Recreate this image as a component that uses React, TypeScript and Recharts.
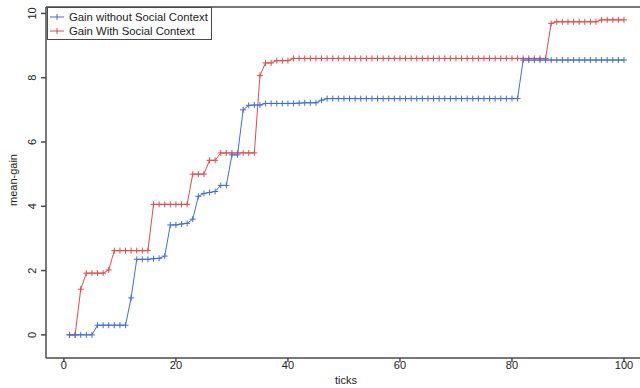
import { LineChart, Line, XAxis, YAxis, ReferenceLine, Label } from 'recharts'

const ticks = [
  1, 2, 3, 4, 5, 6, 7, 8, 9, 10, 11, 12, 13, 14, 15, 16, 17, 18, 19, 20,
  21, 22, 23, 24, 25, 26, 27, 28, 29, 30, 31, 32, 33, 34, 35, 36, 37, 38, 39, 40,
  41, 42, 43, 44, 45, 46, 47, 48, 49, 50, 51, 52, 53, 54, 55, 56, 57, 58, 59, 60,
  61, 62, 63, 64, 65, 66, 67, 68, 69, 70, 71, 72, 73, 74, 75, 76, 77, 78, 79, 80,
  81, 82, 83, 84, 85, 86, 87, 88, 89, 90, 91, 92, 93, 94, 95, 96, 97, 98, 99, 100,
]

// Gain without Social Context
const gainWithout = [
  0, 0, 0, 0, 0, 0.3, 0.3, 0.3, 0.3, 0.3, 0.3, 1.15, 2.35, 2.35, 2.35, 2.37, 2.38, 2.45, 3.42, 3.42,
  3.45, 3.47, 3.6, 4.31, 4.4, 4.43, 4.46, 4.65, 4.65, 5.6, 5.6, 7.0, 7.14, 7.15, 7.15, 7.2, 7.2, 7.2, 7.2, 7.2,
  7.2, 7.21, 7.22, 7.22, 7.22, 7.3, 7.35, 7.35, 7.35, 7.35, 7.35, 7.35, 7.35, 7.35, 7.35, 7.35, 7.35, 7.35, 7.35, 7.35,
  7.35, 7.35, 7.35, 7.35, 7.35, 7.35, 7.35, 7.35, 7.35, 7.35, 7.35, 7.35, 7.35, 7.35, 7.35, 7.35, 7.35, 7.35, 7.35, 7.35,
  7.35, 8.55, 8.55, 8.55, 8.55, 8.55, 8.55, 8.55, 8.55, 8.55, 8.55, 8.55, 8.55, 8.55, 8.55, 8.55, 8.55, 8.55, 8.55, 8.55,
]

// Gain With Social Context
const gainWith = [
  0, 0, 1.42, 1.92, 1.92, 1.92, 1.92, 2.02, 2.62, 2.62, 2.62, 2.62, 2.62, 2.62, 2.62, 4.06, 4.06, 4.06, 4.06, 4.06,
  4.06, 4.06, 5.0, 5.0, 5.0, 5.43, 5.43, 5.66, 5.66, 5.66, 5.66, 5.66, 5.66, 5.66, 8.07, 8.46, 8.46, 8.53, 8.53, 8.53,
  8.6, 8.6, 8.6, 8.6, 8.6, 8.6, 8.6, 8.6, 8.6, 8.6, 8.6, 8.6, 8.6, 8.6, 8.6, 8.6, 8.6, 8.6, 8.6, 8.6,
  8.6, 8.6, 8.6, 8.6, 8.6, 8.6, 8.6, 8.6, 8.6, 8.6, 8.6, 8.6, 8.6, 8.6, 8.6, 8.6, 8.6, 8.6, 8.6, 8.6,
  8.6, 8.6, 8.6, 8.6, 8.6, 8.6, 9.69, 9.74, 9.74, 9.74, 9.74, 9.74, 9.74, 9.74, 9.74, 9.8, 9.8, 9.8, 9.8, 9.8,
]

const xTicks = [0, 20, 40, 60, 80, 100]
const yTicks = [0, 2, 4, 6, 8, 10]

const data = ticks.map((t, i) => ({ tick: t, without: gainWithout[i], withSocial: gainWith[i] }))

const BLUE = '#3f6fd8'
const RED = '#e24b4b'
const AXIS = '#4a4a4a'
const FONT = '"Liberation Sans", Arial, sans-serif'
const Y_MAX = 10.2

const plusDot = (color: string) => (props: any) => {
  const { cx, cy, index } = props
  if (cx == null || cy == null) return <g key={`e${index}`} />
  return (
    <path
      key={`p${index}`}
      d={`M${cx - 3},${cy}h6M${cx},${cy - 3}v6`}
      stroke={color}
      strokeWidth={1}
      fill="none"
    />
  )
}

const YTick = (props: any) => {
  const { y, payload } = props
  return (
    <text
      x={36}
      y={y}
      transform={`rotate(-90, 36, ${y})`}
      textAnchor="middle"
      fontSize={11}
      fontFamily={FONT}
      fill="#222"
    >
      {payload.value}
    </text>
  )
}

const XTick = (props: any) => {
  const { x, payload } = props
  return (
    <text x={x} y={369} textAnchor="middle" fontSize={11} fontFamily={FONT} fill="#222">
      {payload.value}
    </text>
  )
}

function LegendBox() {
  const row = (color: string, text: string) => (
    <div style={{ display: 'flex', alignItems: 'center', height: 14 }}>
      <svg width={20} height={14} style={{ flex: 'none' }}>
        <path d="M2,7h14M9,4v6" stroke={color} strokeWidth={1} fill="none" />
      </svg>
      <span style={{ marginLeft: 1 }}>{text}</span>
    </div>
  )
  return (
    <div
      style={{
        position: 'absolute',
        left: 47,
        top: 7,
        width: 165,
        height: 33,
        border: `1px solid ${AXIS}`,
        background: '#fff',
        boxSizing: 'border-box',
        paddingTop: 2,
        fontFamily: FONT,
        fontSize: 11.3,
        color: '#222',
        lineHeight: '14px',
      }}
    >
      {row(BLUE, 'Gain without Social Context')}
      {row(RED, 'Gain With Social Context')}
    </div>
  )
}

export default function App() {
  return (
    <div style={{ position: 'absolute', left: 0, top: 0, width: 640, height: 388, background: '#fff', overflow: 'hidden' }}>
      <LineChart width={640} height={388} data={data} margin={{ top: 7, right: 0, bottom: 0, left: 0 }}>
        <XAxis
          dataKey="tick"
          type="number"
          domain={[-3.2, 102.86]}
          ticks={xTicks}
          allowDataOverflow
          height={30}
          tickSize={4}
          stroke={AXIS}
          strokeWidth={1.5}
          tick={<XTick />}
        >
          <Label
            content={() => (
              <text x={346} y={384} textAnchor="middle" fontSize={11} fontFamily={FONT} fill="#222">
                ticks
              </text>
            )}
          />
        </XAxis>
        <YAxis
          type="number"
          domain={[-0.72, Y_MAX]}
          ticks={yTicks}
          allowDataOverflow
          width={46}
          tickSize={5}
          stroke={AXIS}
          strokeWidth={1.5}
          tick={<YTick />}
        >
          <Label
            content={() => (
              <text
                x={17}
                y={180}
                transform="rotate(-90, 17, 180)"
                textAnchor="middle"
                fontSize={11}
                fontFamily={FONT}
                fill="#222"
              >
                mean-gain
              </text>
            )}
          />
        </YAxis>
        <ReferenceLine y={Y_MAX} stroke={AXIS} strokeWidth={1.5} />
        <Line
          type="linear"
          dataKey="withSocial"
          stroke={RED}
          strokeWidth={1}
          dot={plusDot(RED)}
          activeDot={false}
          isAnimationActive={false}
        />
        <Line
          type="linear"
          dataKey="without"
          stroke={BLUE}
          strokeWidth={1}
          dot={plusDot(BLUE)}
          activeDot={false}
          isAnimationActive={false}
        />
      </LineChart>
      <LegendBox />
    </div>
  )
}
